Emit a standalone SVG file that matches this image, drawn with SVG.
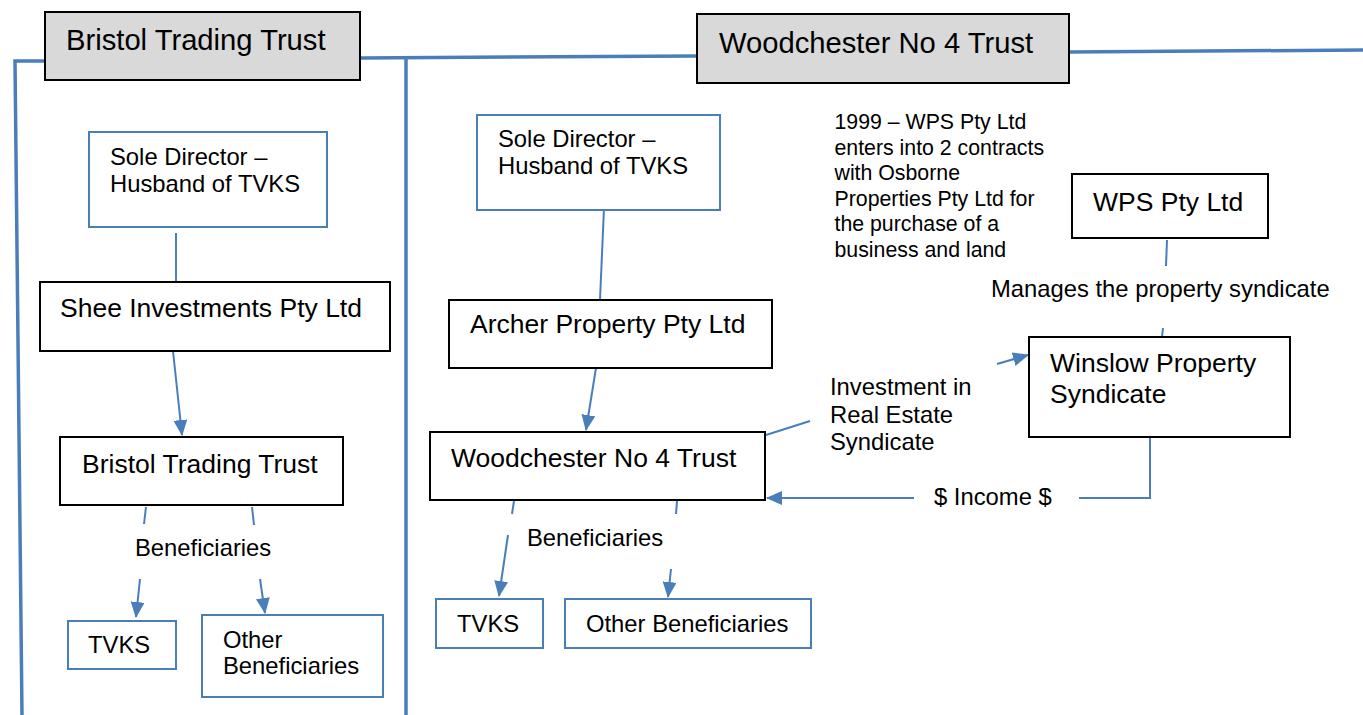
<svg xmlns="http://www.w3.org/2000/svg" width="1363" height="715" viewBox="0 0 1363 715">
<style>
text{font-family:"Liberation Sans",Arial,sans-serif;fill:#000}
.hdr{font-size:29.2px}
.big{font-size:26.5px}
.med{font-size:23.8px}
.sm{font-size:21.3px}
.hbox{fill:#d9d9d9;stroke:#000;stroke-width:2}
.kbox{fill:#fff;stroke:#000;stroke-width:2}
.bbox{fill:#fff;stroke:#4a7ebb;stroke-width:2}
.frame{fill:none;stroke:#4a7ebb;stroke-width:3.5}
.con{fill:none;stroke:#4a7ebb;stroke-width:2}
.arr{marker-end:url(#ah)}
</style>
<defs>
<marker id="ah" markerUnits="userSpaceOnUse" markerWidth="16" markerHeight="14" refX="15" refY="7" orient="auto">
<path d="M0,0 L16,7 L0,14 Z" fill="#4a7ebb"/>
</marker>
</defs>
<rect width="1363" height="715" fill="#fff"/>
<g id="connectors">
<path class="frame" d="M45,61 L15,61 L22,715"/>
<path class="frame" d="M360,58 L698,56"/>
<path class="frame" d="M406,58 L406,715"/>
<path class="frame" d="M1069,52 L1363,50"/>
<line class="con" x1="176" y1="233" x2="176" y2="282"/>
<line class="con arr" x1="173" y1="351" x2="182" y2="435"/>
<line class="con" x1="146" y1="507" x2="144" y2="524"/>
<line class="con" x1="252" y1="507" x2="254" y2="525"/>
<line class="con arr" x1="140" y1="579" x2="136" y2="617"/>
<line class="con arr" x1="260" y1="579" x2="265" y2="613"/>
<line class="con" x1="604" y1="208" x2="600" y2="300"/>
<line class="con arr" x1="596" y1="368" x2="586" y2="430"/>
<line class="con" x1="514" y1="501" x2="512" y2="514"/>
<line class="con" x1="677" y1="501" x2="676" y2="514"/>
<line class="con arr" x1="508" y1="535" x2="499" y2="596"/>
<line class="con arr" x1="671" y1="569" x2="668" y2="597"/>
<line class="con" x1="766" y1="435" x2="810" y2="421"/>
<line class="con arr" x1="997" y1="364" x2="1028" y2="355"/>
<line class="con" x1="1167" y1="240" x2="1166" y2="266"/>
<line class="con" x1="1163" y1="328" x2="1162" y2="337"/>
<polyline class="con" points="1150,437 1150,498 1079,498"/>
<line class="con arr" x1="914" y1="498" x2="767" y2="498"/>
</g>
<g id="hdr-bristol">
<rect class="hbox" x="45" y="12" width="315" height="68"/>
<text class="hdr" x="66" y="50">Bristol Trading Trust</text>
</g>
<g id="hdr-woodchester">
<rect class="hbox" x="697" y="14" width="372" height="69"/>
<text class="hdr" x="719" y="53">Woodchester No 4 Trust</text>
</g>
<g id="sole-director-left">
<rect class="bbox" x="89" y="132" width="238" height="95"/>
<text class="med" x="110" y="165">Sole Director –</text>
<text class="med" x="110" y="192">Husband of TVKS</text>
</g>
<g id="shee">
<rect class="kbox" x="40" y="282" width="350" height="69"/>
<text class="big" x="60" y="317">Shee Investments Pty Ltd</text>
</g>
<g id="bristol-trust">
<rect class="kbox" x="60" y="437" width="283" height="68"/>
<text class="big" x="82" y="473">Bristol Trading Trust</text>
</g>
<g id="benef-left-label">
<text class="med" x="135" y="556">Beneficiaries</text>
</g>
<g id="tvks-left">
<rect class="bbox" x="68" y="621" width="108" height="48"/>
<text class="med" x="88" y="653">TVKS</text>
</g>
<g id="other-left">
<rect class="bbox" x="202" y="615" width="181" height="82"/>
<text class="med" x="223" y="648">Other</text>
<text class="med" x="223" y="674">Beneficiaries</text>
</g>
<g id="sole-director-right">
<rect class="bbox" x="477" y="115" width="243" height="95"/>
<text class="med" x="498" y="147">Sole Director –</text>
<text class="med" x="498" y="174">Husband of TVKS</text>
</g>
<g id="archer">
<rect class="kbox" x="449" y="300" width="323" height="68"/>
<text class="big" x="470" y="333">Archer Property Pty Ltd</text>
</g>
<g id="woodchester-trust">
<rect class="kbox" x="430" y="432" width="335" height="68"/>
<text class="big" x="451" y="467">Woodchester No 4 Trust</text>
</g>
<g id="benef-right-label">
<text class="med" x="527" y="546">Beneficiaries</text>
</g>
<g id="tvks-right">
<rect class="bbox" x="436" y="599" width="107" height="49"/>
<text class="med" x="457" y="632">TVKS</text>
</g>
<g id="other-right">
<rect class="bbox" x="565" y="599" width="246" height="49"/>
<text class="med" x="586" y="632">Other Beneficiaries</text>
</g>
<g id="note-1999">
<text class="sm" x="834.5" y="129">1999 – WPS Pty Ltd</text>
<text class="sm" x="834.5" y="155">enters into 2 contracts</text>
<text class="sm" x="834.5" y="180">with Osborne</text>
<text class="sm" x="834.5" y="206">Properties Pty Ltd for</text>
<text class="sm" x="834.5" y="231">the purchase of a</text>
<text class="sm" x="834.5" y="257">business and land</text>
</g>
<g id="wps">
<rect class="kbox" x="1072" y="174" width="196" height="64"/>
<text class="big" x="1093" y="211">WPS Pty Ltd</text>
</g>
<g id="manages-label">
<text class="med" x="991" y="297">Manages the property syndicate</text>
</g>
<g id="winslow">
<rect class="kbox" x="1029" y="337" width="261" height="100"/>
<text class="big" x="1050" y="372">Winslow Property</text>
<text class="big" x="1050" y="403">Syndicate</text>
</g>
<g id="investment-label">
<text class="med" x="830" y="395">Investment in</text>
<text class="med" x="830" y="423">Real Estate</text>
<text class="med" x="830" y="450">Syndicate</text>
</g>
<g id="income-label">
<text class="med" x="934" y="505">$ Income $</text>
</g>
</svg>
